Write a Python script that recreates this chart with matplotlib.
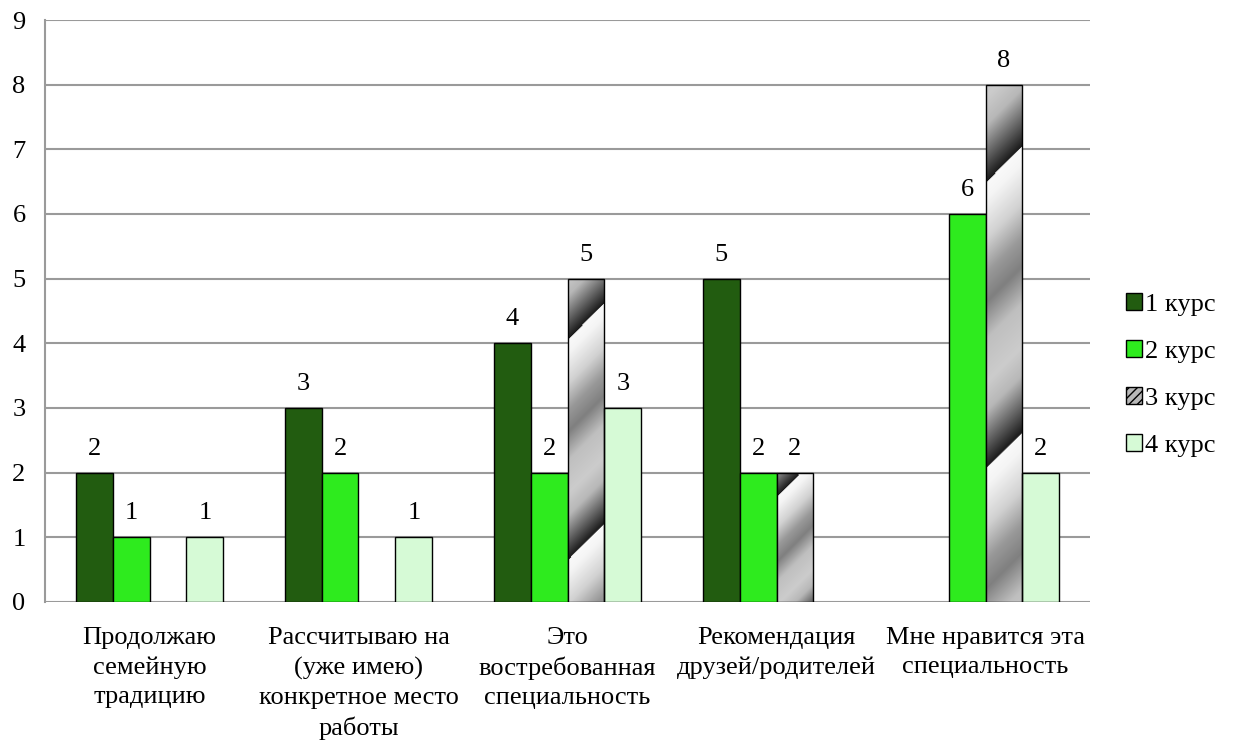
import numpy as np
import matplotlib
matplotlib.use("Agg")
import matplotlib.pyplot as plt
from matplotlib.patches import Patch

FAM = ['Liberation Serif', 'DejaVu Serif']
plt.rcParams['font.family'] = FAM

categories = ["Продолжаю\nсемейную\nтрадицию",
              "Рассчитываю на\n(уже имею)\nконкретное место\nработы",
              "Это\nвостребованная\nспециальность",
              "Рекомендация\nдрузей/родителей",
              "Мне нравится эта\nспециальность"]
series_names = ["1 курс", "2 курс", "3 курс", "4 курс"]
kurs1 = [2, 3, 4, 5, None]
kurs2 = [1, 2, 2, 2, 6]
kurs3 = [None, None, 5, 2, 8]
kurs4 = [1, 1, 3, None, 2]
yticks = list(range(0, 10))

colors = ["#225C10", "#2EEB1E", None, "#D6FAD6"]
FS = 19

fig = plt.figure(figsize=(12.34, 7.4), dpi=100)
ax = fig.add_axes([45 / 1234, 138 / 740, 1045 / 1234, 582 / 740])

x = np.arange(len(categories))
bw = 0.177
offsets = [-1.5 * bw, -0.5 * bw, 0.5 * bw, 1.5 * bw]
px_x = 1045 / 5.0      # pixels per category unit
px_y = 582 / 9.0       # pixels per value unit


def shade(s):
    pts_s = [0.0, 0.06, 0.2, 0.32, 0.42, 0.55, 0.7, 0.8, 0.92, 1.0]
    pts_v = [0.98, 0.96, 0.82, 0.6, 0.5, 0.75, 0.8, 0.72, 0.35, 0.1]
    return np.interp(s, pts_s, pts_v)


def gradient_bar(xl, h):
    rect = ax.bar(xl, h, bw, align='edge', facecolor='none', edgecolor='black',
                  linewidth=1, zorder=4)[0]
    H = h * px_y
    W = bw * px_x
    period = 110 + 0.34 * H
    edge0 = 0.81 * H
    ny, nx = max(int(H), 2), max(int(W), 2)
    yy, xx = np.mgrid[0:ny, 0:nx]
    ypx = (ny - 1 - yy) * H / ny
    xpx = xx * W / nx
    s = ((edge0 + xpx - ypx) / period) % 1.0
    v = shade(s)
    img = np.dstack([v, v, v])
    im = ax.imshow(img, extent=(xl, xl + bw, 0, h), aspect='auto', zorder=3,
                   interpolation='bilinear')
    im.set_clip_path(rect)


all_series = [kurs1, kurs2, kurs3, kurs4]
for i, vals in enumerate(all_series):
    for j, v in enumerate(vals):
        if v is None:
            continue
        xl = x[j] + offsets[i] - bw / 2
        if i == 2:
            gradient_bar(xl, v)
        else:
            ax.bar(xl, v, bw, align='edge', color=colors[i], edgecolor='black',
                   linewidth=1, zorder=3)
        ax.text(xl + bw / 2, v + 0.2, str(v), ha='center', va='bottom',
                fontsize=FS, family=FAM, zorder=5)

ax.set_xlim(-0.5, len(categories) - 0.5)
ax.set_ylim(0, 9)
ax.set_yticks(yticks)
ax.set_yticklabels([str(t) for t in yticks], fontsize=FS, family=FAM)
ax.set_xticks(x)
ax.set_xticklabels(categories, fontsize=FS, family=FAM, linespacing=1.42, va='top')
ax.tick_params(axis='both', length=0)
ax.tick_params(axis='y', pad=14)
ax.tick_params(axis='x', pad=18)
ax.grid(axis='y', color='#9A9A9A', linewidth=1.5, zorder=0)
ax.set_axisbelow(True)
for sp in ['top', 'right', 'bottom']:
    ax.spines[sp].set_visible(False)
ax.spines['left'].set_color('#9A9A9A')
ax.spines['left'].set_linewidth(1.5)

handles = [Patch(facecolor=colors[0], edgecolor='black'),
           Patch(facecolor=colors[1], edgecolor='black'),
           Patch(facecolor='#B8B8B8', edgecolor='black', hatch='////'),
           Patch(facecolor=colors[3], edgecolor='black')]
fig.legend(handles, series_names, loc='center left',
           bbox_to_anchor=(1102 / 1234, 1 - 375 / 740),
           frameon=False, prop={'family': FAM, 'size': FS}, handlelength=0.6,
           handleheight=0.6, handletextpad=0.12, labelspacing=0.92)

fig.savefig("out.png", dpi=100)
